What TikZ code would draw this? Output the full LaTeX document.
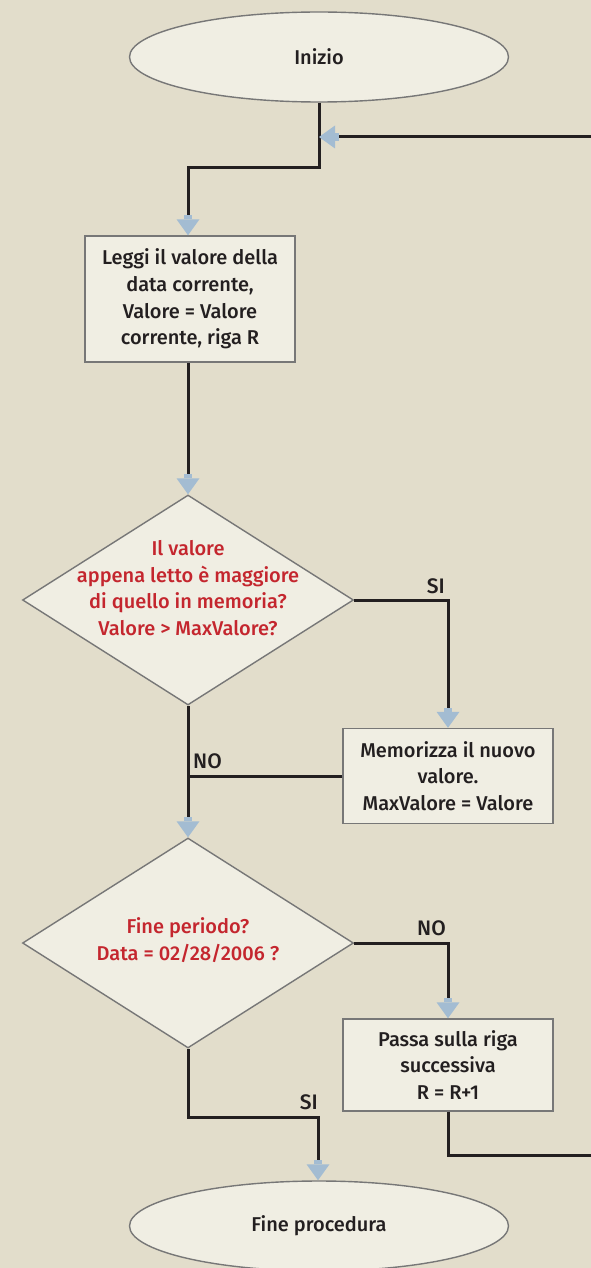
\documentclass[tikz,border=0pt]{standalone}
\usepackage{fontspec}
\setmainfont{Fira Sans}[UprightFont=* Medium]
\usetikzlibrary{shapes.geometric,arrows.meta,calc}

\definecolor{paper}{HTML}{E2DDCB}
\definecolor{boxfill}{HTML}{F0EEE3}
\definecolor{boxline}{HTML}{777777}
\definecolor{wire}{HTML}{231F20}
\definecolor{tipblue}{HTML}{A3BCD2}
\definecolor{asktext}{HTML}{C4262E}
\definecolor{ink}{HTML}{231F20}

\tikzset{
  txt/.style={font=\fontsize{20}{26.8}\selectfont, text=ink, align=center},
  terminal/.style={ellipse, draw=boxline, line width=1.4pt, fill=boxfill,
    minimum width=379pt, minimum height=90pt, inner sep=0pt, txt},
  process/.style={rectangle, draw=boxline, line width=1.4pt, fill=boxfill,
    minimum width=210pt, inner sep=0pt, txt},
  decision/.style={diamond, draw=boxline, line width=1.4pt, fill=boxfill,
    minimum width=331pt, minimum height=210pt, inner sep=0pt},
  asktxt/.style={txt, text=asktext},
  branch/.style={font=\fontsize{21}{24}\selectfont, text=ink, inner sep=0pt},
  wirestyle/.style={draw=wire, line width=3pt},
  flow/.style={wirestyle,
    -{Rectangle[length=4pt,width=8pt,line width=0pt,color=tipblue]
      Triangle[length=16pt,width=23pt,line width=0pt,color=tipblue]}},
}

\begin{document}
\begin{tikzpicture}[x=1pt,y=-1pt]
  \useasboundingbox (0,0) rectangle (591,1268);
  \fill[paper] (0,0) rectangle (591,1268);
  \clip (0,0) rectangle (591,1268);

  % nodes
  \node[terminal] (start) at (319,57) {Inizio};
  \node[process, minimum height=126pt] (read) at (190,299)
    {Leggi il valore della\\data corrente,\\Valore = Valore\\corrente, riga R};
  \node[decision] (d1) at (188,600) {};
  \node[asktxt] (q1) at (188,588)
    {Il valore\\appena letto è maggiore\\di quello in memoria?\\Valore > MaxValore?};
  \node[process, minimum height=95pt] (store) at (448,776)
    {Memorizza il nuovo\\valore.\\MaxValore = Valore};
  \node[decision] (d2) at (188,943) {};
  \node[asktxt] (q2) at (188,940) {Fine periodo?\\Data = 02/28/2006 ?};
  \node[process, minimum height=92pt] (next) at (448,1065)
    {Passa sulla riga\\successiva\\R = R+1};
  \node[terminal] (stop) at (319,1226) {Fine procedura};

  % junction points
  \coordinate (merge) at (319,137);
  \coordinate (bend1) at (319,168);
  \coordinate (bend2) at (318,1117);
  \coordinate (retlow) at (600,1155);
  \coordinate (rethigh) at (600,137);

  % connectors
  \draw[flow] (start.south) -- (bend1) -| (read.north -| d1.north);
  \draw[flow] (read.south -| d1.north) -- (d1.north);
  \draw[flow] (d1.east) -| (store.north);
  \draw[wirestyle] (store.west) -- (store.west -| d1.south);
  \draw[flow] (d1.south) -- (d2.north);
  \draw[flow] (d2.east) -| (next.north);
  \draw[flow] (d2.south) |- (bend2) -- (bend2 |- stop.north);
  \draw[wirestyle] (next.south) |- (retlow) -- (rethigh);
  \draw[flow] (rethigh) -- (merge);

  % branch labels
  \node[branch, anchor=south east] (l1) at (445,594) {SI};
  \node[branch, anchor=south west] (l2) at (193,769) {NO};
  \node[branch, anchor=south east] (l3) at (446,936) {NO};
  \node[branch, anchor=south east] (l4) at (318,1110) {SI};
\end{tikzpicture}
\end{document}
